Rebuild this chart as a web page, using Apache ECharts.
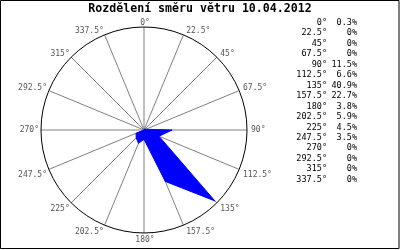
<!DOCTYPE html>
<html>
<head>
<meta charset="utf-8">
<script src="https://cdn.jsdelivr.net/npm/echarts@6/dist/echarts.min.js"></script>
<style>html,body{margin:0;padding:0;background:#fff;}#c{width:400px;height:250px;}</style>
</head>
<body>
<div id="c"></div>
<script>
var titleText = 'Rozdělení směru větru 10.04.2012';
var directions = [0, 22.5, 45, 67.5, 90, 112.5, 135, 157.5, 180, 202.5, 225, 247.5, 270, 292.5, 315, 337.5];
var percents = [0.3, 0, 0, 0, 11.5, 6.6, 40.9, 22.7, 3.8, 5.9, 4.5, 3.5, 0, 0, 0, 0];
var radiusMax = 42;

var mono = 'DejaVu Sans Mono';
var seriesData = directions.map(function (d, i) { return [percents[i], d]; });
seriesData.push([percents[0], 360]);

var graphics = [{
  type: 'rect', shape: {x: 0.5, y: 0.5, width: 398.5, height: 248},
  style: {fill: 'none', stroke: '#000', lineWidth: 1}, silent: true
}];
directions.forEach(function (d, i) {
  var y = 22.8 + i * 10.45;
  graphics.push({
    type: 'text', x: 327, y: y,
    style: {text: d + '°', font: '8.5px "' + mono + '"', fill: '#000', textAlign: 'right', textVerticalAlign: 'middle'}
  });
  graphics.push({
    type: 'text', x: 357, y: y,
    style: {text: percents[i] + '%', font: '8.5px "' + mono + '"', fill: '#000', textAlign: 'right', textVerticalAlign: 'middle'}
  });
});

var hidden = {axisLine: {show: false}, axisTick: {show: false}, axisLabel: {show: false}, splitLine: {show: false}};

var chart = echarts.init(document.getElementById('c'), null, {renderer: 'canvas'});
chart.setOption({
  animation: false,
  backgroundColor: '#fff',
  title: {
    text: titleText, left: 'center', top: 3, padding: 0,
    textStyle: {fontFamily: mono, fontWeight: 'bold', fontSize: 11.6, color: '#000'}
  },
  polar: [
    {center: [144, 130], radius: 103},
    {center: [144, 130], radius: 103}
  ],
  angleAxis: [{
    polarIndex: 0,
    type: 'category', data: directions.map(function (d) { return d + '°'; }),
    boundaryGap: false, startAngle: 90, clockwise: true,
    axisLine: {show: false},
    axisTick: {show: false},
    axisLabel: {
      show: true, interval: 0, margin: 2, color: '#555', fontFamily: mono, fontSize: 8,
      lineHeight: 4, padding: [3, 0, 0, 2]
    },
    splitLine: {show: true, interval: 0, lineStyle: {color: '#808080', width: 1}}
  }, {
    polarIndex: 1,
    type: 'value', min: 0, max: 360, startAngle: 90, clockwise: true,
    axisLine: {show: true, lineStyle: {color: '#000', width: 1}},
    axisTick: {show: false}, axisLabel: {show: false}, splitLine: {show: false}
  }],
  radiusAxis: [
    Object.assign({polarIndex: 0, type: 'value', min: 0, max: radiusMax}, hidden),
    Object.assign({polarIndex: 1, type: 'value', min: 0, max: radiusMax}, hidden)
  ],
  series: [{
    type: 'line', coordinateSystem: 'polar', polarIndex: 1, data: seriesData,
    symbol: 'none', z: 5,
    lineStyle: {color: '#0000ff', width: 1},
    areaStyle: {color: '#0000ff', opacity: 1}
  }],
  graphic: graphics
});
</script>
</body>
</html>
